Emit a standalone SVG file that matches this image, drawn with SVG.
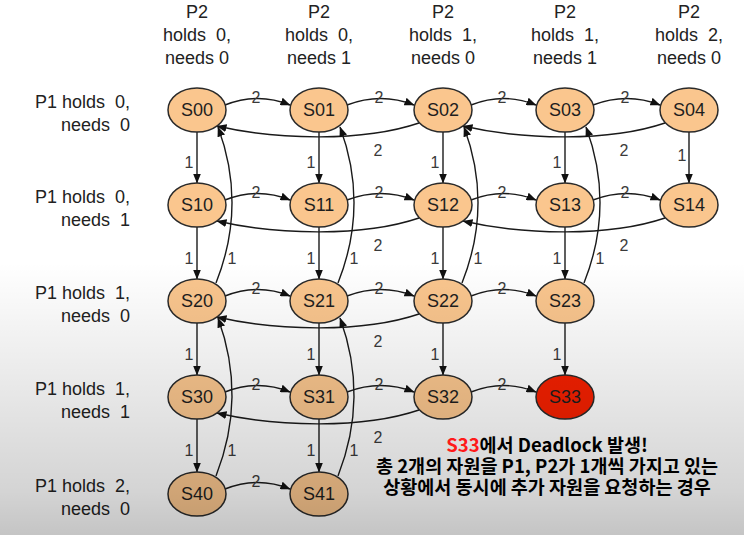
<svg xmlns="http://www.w3.org/2000/svg" width="744" height="535" viewBox="0 0 744 535">
<defs>
<marker id="ah" markerWidth="10" markerHeight="8" refX="9.5" refY="4" orient="auto" markerUnits="userSpaceOnUse"><path d="M0,0 L10,4 L0,8 z" fill="#111"/></marker>
<linearGradient id="shade" x1="0" y1="0" x2="0" y2="1">
<stop offset="0" stop-color="#000" stop-opacity="0"/>
<stop offset="0.49" stop-color="#000" stop-opacity="0"/>
<stop offset="0.75" stop-color="#000" stop-opacity="0.1"/>
<stop offset="0.92" stop-color="#000" stop-opacity="0.17"/>
<stop offset="1" stop-color="#000" stop-opacity="0.23"/>
</linearGradient>
</defs>
<style>
.hd{font-family:"Liberation Sans",Arial,sans-serif;font-size:18px;fill:#222;text-anchor:middle;white-space:pre}
.rl{font-family:"Liberation Sans",Arial,sans-serif;font-size:18px;fill:#222;text-anchor:end;white-space:pre}
.nd ellipse{fill:#FAC68E;stroke:#2a2a2a;stroke-width:1.5}
.nd text{font-family:"Liberation Sans",Arial,sans-serif;font-size:18px;fill:#1e1e1e;text-anchor:middle}
#S33 ellipse{fill:#F52000}
.e{fill:none;stroke:#1a1a1a;stroke-width:1.4;marker-end:url(#ah)}
.el{font-family:"Liberation Sans",Arial,sans-serif;font-size:16px;fill:#3a3a3a;text-anchor:middle}
.sub{font-family:"Noto Sans CJK KR","Noto Sans",sans-serif;font-size:18.5px;font-weight:bold;fill:#000;text-anchor:middle}
</style>
<rect width="744" height="535" fill="#fff"/>
<g id="headers">
<text class="hd" x="197" y="18">P2</text><text class="hd" x="197" y="41">holds  0,</text><text class="hd" x="197" y="64">needs 0</text>
<text class="hd" x="319" y="18">P2</text><text class="hd" x="319" y="41">holds  0,</text><text class="hd" x="319" y="64">needs 1</text>
<text class="hd" x="443" y="18">P2</text><text class="hd" x="443" y="41">holds  1,</text><text class="hd" x="443" y="64">needs 0</text>
<text class="hd" x="565" y="18">P2</text><text class="hd" x="565" y="41">holds  1,</text><text class="hd" x="565" y="64">needs 1</text>
<text class="hd" x="689" y="18">P2</text><text class="hd" x="689" y="41">holds  2,</text><text class="hd" x="689" y="64">needs 0</text>
</g>
<g id="rowlabels">
<text class="rl" x="130" y="108">P1 holds  0,</text><text class="rl" x="130" y="131">needs  0</text>
<text class="rl" x="130" y="203">P1 holds  0,</text><text class="rl" x="130" y="226">needs  1</text>
<text class="rl" x="130" y="299">P1 holds  1,</text><text class="rl" x="130" y="322">needs  0</text>
<text class="rl" x="130" y="395">P1 holds  1,</text><text class="rl" x="130" y="418">needs  1</text>
<text class="rl" x="130" y="492">P1 holds  2,</text><text class="rl" x="130" y="515">needs  0</text>
</g>
<g id="connectors">
<path class="e" d="M225,105 Q258,92 290,105"/><path class="e" d="M347,105 Q381,92 414,105"/><path class="e" d="M471,105 Q504,92 536,105"/><path class="e" d="M593,105 Q627,92 660,105"/>
<path class="e" d="M225,200 Q258,187 290,200"/><path class="e" d="M347,200 Q381,187 414,200"/><path class="e" d="M471,200 Q504,187 536,200"/><path class="e" d="M593,200 Q627,187 660,200"/>
<path class="e" d="M225,296 Q258,283 290,296"/><path class="e" d="M347,296 Q381,283 414,296"/><path class="e" d="M471,296 Q504,283 536,296"/>
<path class="e" d="M225,392 Q258,379 290,392"/><path class="e" d="M347,392 Q381,379 414,392"/><path class="e" d="M471,392 Q504,379 536,392"/>
<path class="e" d="M225,489 Q258,476 290,489"/>
<path class="e" d="M419,123 C363,142 277,140 217,126"/><path class="e" d="M665,123 C609,142 523,140 463,126"/>
<path class="e" d="M419,218 C363,237 277,235 217,221"/><path class="e" d="M665,218 C609,237 523,235 463,221"/>
<path class="e" d="M419,314 C363,333 277,331 217,317"/>
<path class="e" d="M419,410 C363,429 277,427 217,413"/>
<path class="e" d="M197,132 L197,183"/><path class="e" d="M197,227 L197,279"/><path class="e" d="M197,323 L197,375"/><path class="e" d="M197,419 L197,472"/>
<path class="e" d="M319,132 L319,183"/><path class="e" d="M319,227 L319,279"/><path class="e" d="M319,323 L319,375"/><path class="e" d="M319,419 L319,472"/>
<path class="e" d="M443,132 L443,183"/><path class="e" d="M443,227 L443,279"/><path class="e" d="M443,323 L443,375"/>
<path class="e" d="M565,132 L565,183"/><path class="e" d="M565,227 L565,279"/><path class="e" d="M565,323 L565,375"/>
<path class="e" d="M689,132 L689,183"/>
<path class="e" d="M216,283 Q247,205 218,127"/><path class="e" d="M338,283 Q369,205 340,127"/><path class="e" d="M462,283 Q493,205 464,127"/><path class="e" d="M584,283 Q615,205 586,127"/>
<path class="e" d="M216,476 Q247,397 218,318"/><path class="e" d="M338,476 Q369,397 340,318"/>
<g id="edgelabels">
<text class="el" x="256" y="103">2</text><text class="el" x="379" y="103">2</text><text class="el" x="502" y="103">2</text><text class="el" x="625" y="103">2</text>
<text class="el" x="256" y="198">2</text><text class="el" x="379" y="198">2</text><text class="el" x="502" y="198">2</text><text class="el" x="625" y="198">2</text>
<text class="el" x="256" y="294">2</text><text class="el" x="379" y="294">2</text><text class="el" x="502" y="294">2</text>
<text class="el" x="256" y="390">2</text><text class="el" x="379" y="390">2</text><text class="el" x="502" y="390">2</text>
<text class="el" x="256" y="487">2</text>
<text class="el" x="378" y="156">2</text><text class="el" x="624" y="156">2</text>
<text class="el" x="378" y="251">2</text><text class="el" x="624" y="251">2</text>
<text class="el" x="378" y="347">2</text><text class="el" x="378" y="443">2</text>
<text class="el" x="189" y="168">1</text><text class="el" x="189" y="264">1</text><text class="el" x="189" y="360">1</text><text class="el" x="189" y="456">1</text>
<text class="el" x="311" y="168">1</text><text class="el" x="311" y="264">1</text><text class="el" x="311" y="360">1</text><text class="el" x="311" y="456">1</text>
<text class="el" x="435" y="168">1</text><text class="el" x="435" y="264">1</text><text class="el" x="435" y="360">1</text>
<text class="el" x="557" y="168">1</text><text class="el" x="557" y="264">1</text><text class="el" x="557" y="360">1</text>
<text class="el" x="682" y="161">1</text>
<text class="el" x="232" y="264">1</text><text class="el" x="354" y="264">1</text><text class="el" x="478" y="264">1</text><text class="el" x="600" y="264">1</text>
<text class="el" x="232" y="456">1</text><text class="el" x="354" y="456">1</text>
</g>
</g>
<g id="S00" class="nd"><ellipse cx="197" cy="110" rx="29" ry="22"/><text x="197" y="116">S00</text></g>
<g id="S01" class="nd"><ellipse cx="319" cy="110" rx="29" ry="22"/><text x="319" y="116">S01</text></g>
<g id="S02" class="nd"><ellipse cx="443" cy="110" rx="29" ry="22"/><text x="443" y="116">S02</text></g>
<g id="S03" class="nd"><ellipse cx="565" cy="110" rx="29" ry="22"/><text x="565" y="116">S03</text></g>
<g id="S04" class="nd"><ellipse cx="689" cy="110" rx="29" ry="22"/><text x="689" y="116">S04</text></g>
<g id="S10" class="nd"><ellipse cx="197" cy="205" rx="29" ry="22"/><text x="197" y="211">S10</text></g>
<g id="S11" class="nd"><ellipse cx="319" cy="205" rx="29" ry="22"/><text x="319" y="211">S11</text></g>
<g id="S12" class="nd"><ellipse cx="443" cy="205" rx="29" ry="22"/><text x="443" y="211">S12</text></g>
<g id="S13" class="nd"><ellipse cx="565" cy="205" rx="29" ry="22"/><text x="565" y="211">S13</text></g>
<g id="S14" class="nd"><ellipse cx="689" cy="205" rx="29" ry="22"/><text x="689" y="211">S14</text></g>
<g id="S20" class="nd"><ellipse cx="197" cy="301" rx="29" ry="22"/><text x="197" y="307">S20</text></g>
<g id="S21" class="nd"><ellipse cx="319" cy="301" rx="29" ry="22"/><text x="319" y="307">S21</text></g>
<g id="S22" class="nd"><ellipse cx="443" cy="301" rx="29" ry="22"/><text x="443" y="307">S22</text></g>
<g id="S23" class="nd"><ellipse cx="565" cy="301" rx="29" ry="22"/><text x="565" y="307">S23</text></g>
<g id="S30" class="nd"><ellipse cx="197" cy="397" rx="29" ry="22"/><text x="197" y="403">S30</text></g>
<g id="S31" class="nd"><ellipse cx="319" cy="397" rx="29" ry="22"/><text x="319" y="403">S31</text></g>
<g id="S32" class="nd"><ellipse cx="443" cy="397" rx="29" ry="22"/><text x="443" y="403">S32</text></g>
<g id="S33" class="nd"><ellipse cx="565" cy="397" rx="29" ry="22"/><text x="565" y="403">S33</text></g>
<g id="S40" class="nd"><ellipse cx="197" cy="494" rx="29" ry="22"/><text x="197" y="500">S40</text></g>
<g id="S41" class="nd"><ellipse cx="319" cy="494" rx="29" ry="22"/><text x="319" y="500">S41</text></g>
<rect width="744" height="535" fill="url(#shade)"/>
<g id="caption">
<text class="sub" x="547" y="452"><tspan fill="#FF1A1A">S33</tspan>에서 Deadlock 발생!</text>
<text class="sub" x="547" y="473">총 2개의 자원을 P1, P2가 1개씩 가지고 있는</text>
<text class="sub" x="547" y="494">상황에서 동시에 추가 자원을 요청하는 경우</text>
</g>
</svg>
